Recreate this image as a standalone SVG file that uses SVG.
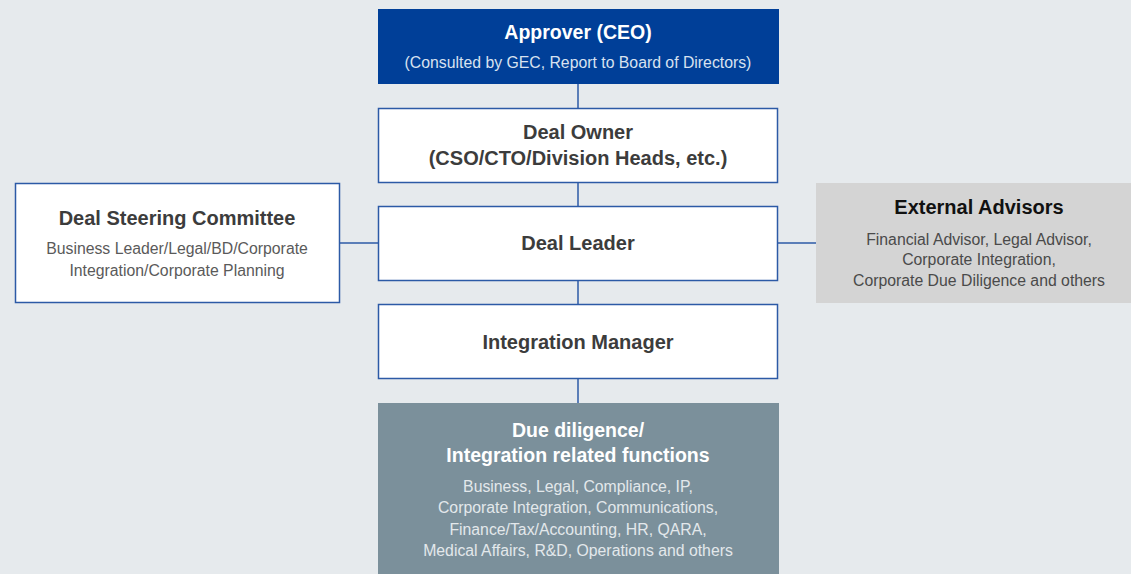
<svg xmlns="http://www.w3.org/2000/svg" width="1131" height="574" viewBox="0 0 1131 574">
<style>
.box{fill:#ffffff;stroke:#2c5aa6;stroke-width:1.5}
.conn{stroke:#2c5aa6;stroke-width:1.5;fill:none}
text{font-family:"Liberation Sans",Arial,sans-serif;text-anchor:middle}
.t{font-size:20px;font-weight:bold;fill:#3c3c3c}
.w{font-size:19.5px;font-weight:bold;fill:#ffffff}
.s{font-size:15.8px;fill:#5a5a5a}
</style>
<rect width="1131" height="574" fill="#e6eaed"/>
<g id="connectors">
<line class="conn" x1="578" y1="84" x2="578" y2="108"/>
<line class="conn" x1="578" y1="182" x2="578" y2="206"/>
<line class="conn" x1="578" y1="280" x2="578" y2="304"/>
<line class="conn" x1="578" y1="379" x2="578" y2="403"/>
<line class="conn" x1="339" y1="243" x2="378" y2="243"/>
<line class="conn" x1="778" y1="243" x2="816" y2="243"/>
</g>
<g id="approver">
<rect x="378" y="9" width="401" height="75" fill="#003f98"/>
<text x="578" y="39" class="w">Approver (CEO)</text>
<text x="578" y="68" class="s" style="fill:#d8e2f0">(Consulted by GEC, Report to Board of Directors)</text>
</g>
<g id="deal-owner">
<rect class="box" x="378.5" y="108.5" width="399" height="74"/>
<text x="578" y="139" class="t">Deal Owner</text>
<text x="578" y="165" class="t">(CSO/CTO/Division Heads, etc.)</text>
</g>
<g id="deal-leader">
<rect class="box" x="378.5" y="206.5" width="399" height="74"/>
<text x="578" y="250" class="t">Deal Leader</text>
</g>
<g id="integration-manager">
<rect class="box" x="378.5" y="304.5" width="399" height="74"/>
<text x="578" y="349" class="t">Integration Manager</text>
</g>
<g id="due-diligence">
<rect x="378" y="403" width="401" height="171" fill="#7b909b"/>
<text x="578" y="437" class="w">Due diligence/</text>
<text x="578" y="462" class="w">Integration related functions</text>
<text x="578" y="492" class="s" style="fill:#e3e8eb">Business, Legal, Compliance, IP,</text>
<text x="578" y="513" class="s" style="fill:#e3e8eb">Corporate Integration, Communications,</text>
<text x="578" y="535" class="s" style="fill:#e3e8eb">Finance/Tax/Accounting, HR, QARA,</text>
<text x="578" y="556" class="s" style="fill:#e3e8eb">Medical Affairs, R&amp;D, Operations and others</text>
</g>
<g id="deal-steering-committee">
<rect class="box" x="15.5" y="183.5" width="324" height="119"/>
<text x="177" y="225" class="t">Deal Steering Committee</text>
<text x="177" y="254" class="s">Business Leader/Legal/BD/Corporate</text>
<text x="177" y="276" class="s">Integration/Corporate Planning</text>
</g>
<g id="external-advisors">
<rect x="816" y="183" width="315" height="120" fill="#d4d4d4"/>
<text x="979" y="214" class="t" style="fill:#111111">External Advisors</text>
<text x="979" y="245" class="s" style="fill:#4a4a4a">Financial Advisor, Legal Advisor,</text>
<text x="979" y="265" class="s" style="fill:#4a4a4a">Corporate Integration,</text>
<text x="979" y="286" class="s" style="fill:#4a4a4a">Corporate Due Diligence and others</text>
</g>
</svg>
